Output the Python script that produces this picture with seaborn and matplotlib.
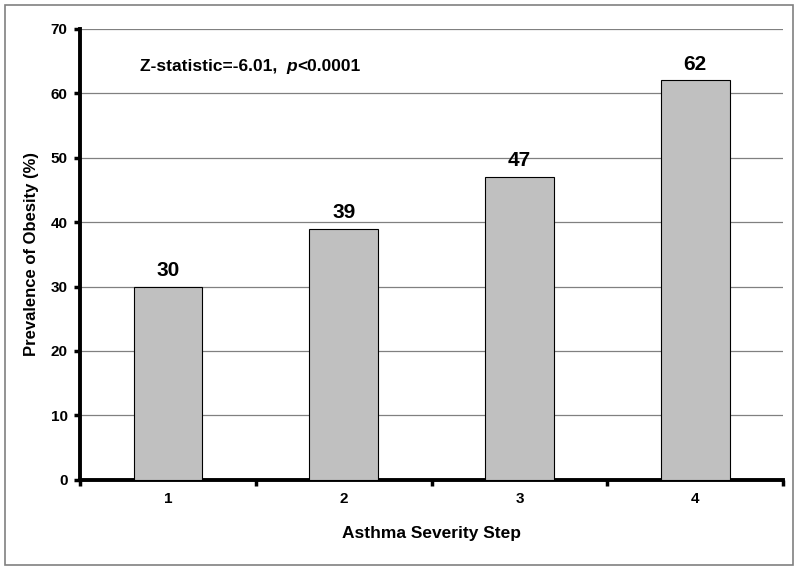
import numpy as np
import pandas as pd
import matplotlib
matplotlib.use("Agg")
import matplotlib.pyplot as plt
import seaborn as sns
from matplotlib.patches import Rectangle

steps = ["1", "2", "3", "4"]
prevalence = [30, 39, 47, 62]

sns.set_style("white")
plt.rcParams['font.family'] = ['Liberation Sans', 'DejaVu Sans']
plt.rcParams['text.color'] = 'black'
plt.rcParams['axes.labelcolor'] = 'black'
plt.rcParams['xtick.color'] = 'black'
plt.rcParams['ytick.color'] = 'black'

df = pd.DataFrame({"step": steps, "prevalence": prevalence})

fig = plt.figure(figsize=(8, 5.74), dpi=100)
ax = fig.add_axes([0.1, 0.164, 0.879, 0.786])

sns.barplot(data=df, x="step", y="prevalence", color="#C0C0C0", saturation=1,
            width=0.39, edgecolor="black", linewidth=0.8, ax=ax, zorder=3)

ax.set_ylim(0, 70)
ax.set_xlim(-0.5, len(steps) - 0.5)
ax.set_yticks(range(0, 71, 10))
ax.yaxis.grid(True, color="#808080", linewidth=0.9, zorder=0)
ax.set_axisbelow(True)

# ticks sit between the categories on x
ax.set_xticks(np.arange(-0.5, len(steps), 1.0), minor=True)
ax.tick_params(axis="x", which="major", bottom=True, length=0, pad=9)
ax.tick_params(axis="x", which="minor", bottom=True, length=4, width=2.5,
               direction="out", color="black")
ax.tick_params(axis="y", left=True, length=4, width=2.5, direction="out",
               color="black", pad=5)

for lbl in ax.get_xticklabels() + ax.get_yticklabels():
    lbl.set_fontweight("bold")
    lbl.set_fontsize(11)

for side in ["top", "right"]:
    ax.spines[side].set_visible(False)
for side in ["left", "bottom"]:
    ax.spines[side].set_linewidth(2.8)
    ax.spines[side].set_color("black")

ax.set_xlabel("Asthma Severity Step", fontsize=12.5, fontweight="bold", labelpad=14)
ax.set_ylabel("Prevalence of Obesity (%)", fontsize=12, fontweight="bold", labelpad=8)

for i, v in enumerate(prevalence):
    ax.text(i, v + 1, str(v), ha="center", va="bottom", fontsize=15, fontweight="bold")

t1 = ax.text(-0.16, 64.2, "Z-statistic=-6.01,  ", fontsize=12.5, fontweight="bold",
             va="center", ha="left")
t2 = ax.annotate("p", xy=(1, 0.5), xycoords=t1, va="center", ha="left",
                 fontsize=12.5, fontweight="bold", fontstyle="italic")
ax.annotate("<0.0001", xy=(1, 0.5), xycoords=t2, va="center", ha="left",
            fontsize=12.5, fontweight="bold")

fig.add_artist(Rectangle((5 / 800, 9 / 574), 788 / 800, 560 / 574,
                         transform=fig.transFigure, fill=False,
                         edgecolor="#808080", linewidth=1.2))

fig.savefig("out.png", dpi=100)
